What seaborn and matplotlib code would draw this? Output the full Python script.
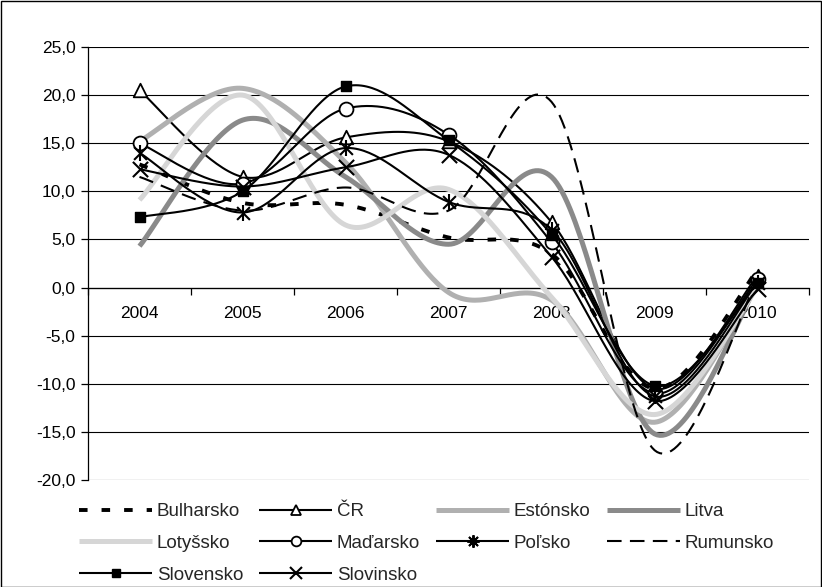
import numpy as np
import pandas as pd
import matplotlib
matplotlib.use("Agg")
import matplotlib.pyplot as plt
import seaborn as sns
from matplotlib.lines import Line2D
from matplotlib.patches import Rectangle

# ---------------- data ----------------
years = ["2004", "2005", "2006", "2007", "2008", "2009", "2010"]
bulharsko = [12.8, 8.8, 8.6, 5.2, 3.5, -10.5, 1.8]
cr = [20.5, 11.5, 15.6, 15.2, 6.8, -10.5, 1.2]
estonsko = [15.2, 20.7, 13.0, -0.5, -1.3, -14.0, 0.3]
litva = [4.3, 17.4, 11.5, 4.5, 11.5, -15.2, 0.3]
lotyssko = [9.1, 20.0, 6.5, 10.2, -1.0, -13.2, 0.0]
madarsko = [15.0, 10.8, 18.6, 15.9, 4.7, -11.0, 0.9]
polsko = [14.0, 7.8, 14.5, 8.9, 6.0, -11.3, 0.5]
rumunsko = [11.5, 8.0, 10.4, 8.0, 19.3, -16.9, 0.8]
slovensko = [7.3, 10.0, 20.9, 15.3, 5.5, -10.2, 0.5]
slovinsko = [12.3, 10.5, 12.5, 13.8, 3.2, -11.8, -0.2]

names = ["Bulharsko", "ČR", "Estónsko", "Litva", "Lotyšsko",
         "Maďarsko", "Poľsko", "Rumunsko", "Slovensko", "Slovinsko"]
series = [bulharsko, cr, estonsko, litva, lotyssko,
          madarsko, polsko, rumunsko, slovensko, slovinsko]
yticks = [-20, -15, -10, -5, 0, 5, 10, 15, 20, 25]

# ---------------- styles ----------------
styles = {
    "Bulharsko": dict(color="black", lw=2.8, ls=(0, (2.2, 3.6)), marker=None),
    "ČR": dict(color="black", lw=1.5, ls="-", marker="^"),
    "Estónsko": dict(color="#b0b0b0", lw=3.6, ls="-", marker=None),
    "Litva": dict(color="#8a8a8a", lw=3.6, ls="-", marker=None),
    "Lotyšsko": dict(color="#d6d6d6", lw=3.6, ls="-", marker=None),
    "Maďarsko": dict(color="black", lw=1.5, ls="-", marker="o"),
    "Poľsko": dict(color="black", lw=1.5, ls="-", marker="star"),
    "Rumunsko": dict(color="black", lw=1.5, ls=(0, (7, 4)), marker=None),
    "Slovensko": dict(color="black", lw=1.5, ls="-", marker="s"),
    "Slovinsko": dict(color="black", lw=1.5, ls="-", marker="x"),
}


def smooth(vals, n=40):
    """Excel-like smoothed line (cubic Bezier through the points)."""
    p = np.column_stack([np.arange(len(vals), dtype=float), np.asarray(vals, float)])
    ext = np.vstack([p[0], p, p[-1]])
    t = np.linspace(0, 1, n)[:, None]
    out = []
    for i in range(len(p) - 1):
        P0, P3 = p[i], p[i + 1]
        C1 = P0 + (ext[i + 2] - ext[i]) / 6
        C2 = P3 - (ext[i + 3] - ext[i + 1]) / 6
        seg = (1 - t) ** 3 * P0 + 3 * (1 - t) ** 2 * t * C1 + 3 * (1 - t) * t ** 2 * C2 + t ** 3 * P3
        out.append(seg if i == 0 else seg[1:])
    return np.vstack(out)


sns.set_theme(style="white")
plt.rcParams["font.family"] = ["Liberation Sans", "DejaVu Sans"]
plt.rcParams["font.size"] = 10

fig = plt.figure(figsize=(8.22, 5.87), dpi=100)
ax = fig.add_axes([88 / 822, 1 - 480 / 587, 721 / 822, 433 / 587])

xpos = np.arange(len(years))
for i, (name, vals) in enumerate(zip(names, series)):
    st = styles[name]
    sm = smooth(vals)
    df = pd.DataFrame({"x": sm[:, 0], "y": sm[:, 1]})
    z = 3 + i * 0.1
    sns.lineplot(data=df, x="x", y="y", sort=False, estimator=None, ax=ax,
                 color=st["color"], linewidth=st["lw"], legend=False, zorder=z)
    ln = ax.lines[-1]
    ln.set_linestyle(st["ls"])
    ln.set_solid_capstyle("butt")
    ln.set_dash_capstyle("butt")
    mk = st["marker"]
    pts = pd.DataFrame({"x": xpos, "y": vals})
    if mk == "^":
        sns.scatterplot(data=pts, x="x", y="y", marker="^", s=95, color="white",
                        edgecolor="black", linewidth=1.3, ax=ax, zorder=z + 0.05, legend=False)
    elif mk == "o":
        sns.scatterplot(data=pts, x="x", y="y", marker="o", s=100, color="white",
                        edgecolor="black", linewidth=1.3, ax=ax, zorder=z + 0.05, legend=False)
    elif mk == "s":
        sns.scatterplot(data=pts, x="x", y="y", marker="s", s=42, color="black",
                        edgecolor="black", linewidth=1.0, ax=ax, zorder=z + 0.05, legend=False)
    elif mk == "x":
        sns.scatterplot(data=pts, x="x", y="y", marker="x", s=120, color="black",
                        linewidth=1.5, ax=ax, zorder=z + 0.05, legend=False)
    elif mk == "star":
        sns.scatterplot(data=pts, x="x", y="y", marker="x", s=85, color="black",
                        linewidth=1.5, ax=ax, zorder=z + 0.05, legend=False)
        sns.scatterplot(data=pts, x="x", y="y", marker="|", s=120, color="black",
                        linewidth=1.5, ax=ax, zorder=z + 0.05, legend=False)

# ---------------- axes ----------------
ax.set_xlim(-0.5, len(years) - 0.5)
ax.set_ylim(-20, 25)
ax.set_yticks(yticks)
ax.set_yticklabels([f"{v:.1f}".replace(".", ",") for v in yticks], fontsize=12.5)
ax.yaxis.grid(True, color="black", linewidth=0.8)
ax.xaxis.grid(False)
ax.set_axisbelow(True)
for s in ["top", "right"]:
    ax.spines[s].set_visible(False)
ax.spines["left"].set_color("black")
ax.spines["left"].set_linewidth(0.9)
ax.spines["bottom"].set_position(("data", 0))
ax.spines["bottom"].set_color("black")
ax.spines["bottom"].set_linewidth(0.9)
major_x = np.arange(-0.5, len(years), 1.0)
ax.set_xticks(major_x)
ax.set_xticklabels([""] * len(major_x))
ax.set_xticks(xpos, minor=True)
ax.set_xticklabels(years, minor=True, fontsize=12.5)
ax.tick_params(axis="x", which="major", direction="out", length=5, width=0.9, color="black", bottom=True)
ax.tick_params(axis="x", which="minor", length=0, pad=13, bottom=True)
ax.tick_params(axis="y", which="major", direction="out", length=5, width=0.9, color="black", left=True, pad=4)
ax.set_xlabel("")
ax.set_ylabel("")
for lab in ax.get_xticklabels(minor=True) + ax.get_yticklabels():
    lab.set_color("black")

# ---------------- legend ----------------
handles = {}
for name in names:
    st = styles[name]
    mk = st["marker"]
    kw = dict(color=st["color"], lw=st["lw"], ls=st["ls"], solid_capstyle="butt", dash_capstyle="butt")
    if mk == "^":
        kw.update(marker="^", markersize=7, markerfacecolor="white", markeredgecolor="black", markeredgewidth=1.3)
    elif mk == "o":
        kw.update(marker="o", markersize=7, markerfacecolor="white", markeredgecolor="black", markeredgewidth=1.3)
    elif mk == "s":
        kw.update(marker="s", markersize=6, markerfacecolor="black", markeredgecolor="black")
    elif mk == "x":
        kw.update(marker="x", markersize=8, markeredgewidth=1.5, markeredgecolor="black")
    elif mk == "star":
        kw.update(marker=(8, 2, 0), markersize=9, markeredgewidth=1.4, markeredgecolor="black")
    handles[name] = Line2D([0], [0], **kw)

# row-major layout with 4 columns (matplotlib fills column by column)
order = ["Bulharsko", "Lotyšsko", "Slovensko", "ČR", "Maďarsko", "Slovinsko",
         "Estónsko", "Poľsko", "Litva", "Rumunsko"]
fig.legend([handles[n] for n in order], order, loc="upper left",
           bbox_to_anchor=(79 / 822, 1 - 503 / 587),
           ncol=4, frameon=False, fontsize=13.5, handlelength=3.9, handletextpad=0.25,
           columnspacing=0.85, labelspacing=0.78, borderpad=0, borderaxespad=0)

fig.add_artist(Rectangle((0.5 / 822, 0.5 / 587), 820.5 / 822, 585.5 / 587, transform=fig.transFigure,
                         fill=False, edgecolor="black", linewidth=1.0))

fig.savefig("out.png", dpi=100)
